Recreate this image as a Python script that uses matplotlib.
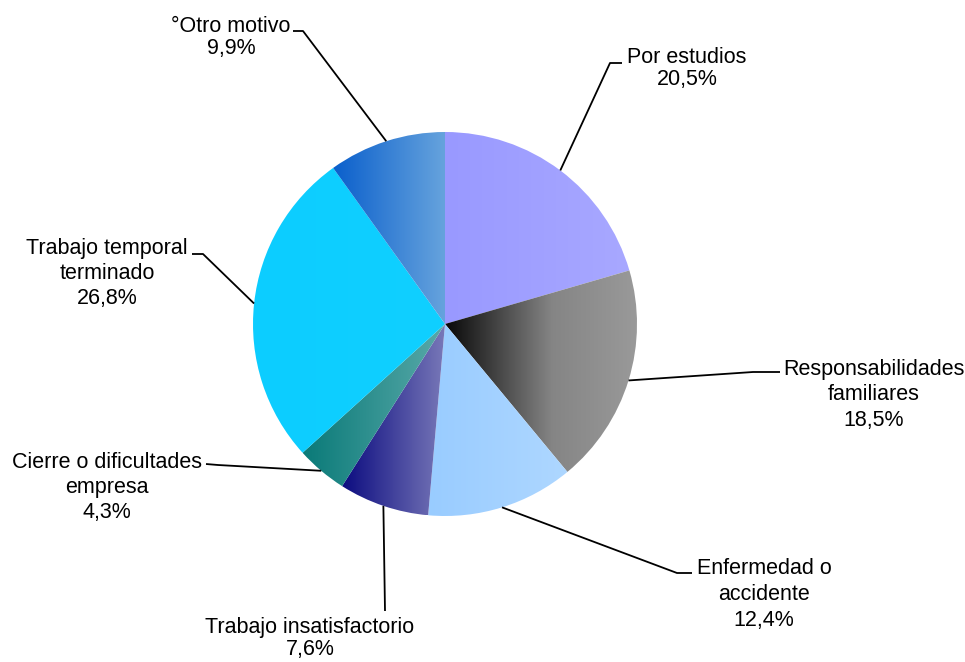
import matplotlib
matplotlib.use("Agg")
import matplotlib.pyplot as plt
import numpy as np
from matplotlib.colors import LinearSegmentedColormap

categories = [["Por estudios"], ["Responsabilidades", "familiares"], ["Enfermedad o", "accidente"],
              ["Trabajo insatisfactorio"], ["Cierre o dificultades", "empresa"],
              ["Trabajo temporal", "terminado"], ["°Otro motivo"]]
values = [20.5, 18.5, 12.4, 7.6, 4.3, 26.8, 9.9]
value_labels = ["20,5%", "18,5%", "12,4%", "7,6%", "4,3%", "26,8%", "9,9%"]

grad_colors = [["#9999ff", "#a8a8ff"], ["#080808", "#858585", "#9a9a9a"], ["#99ccff", "#aed7ff"],
               ["#0c0c80", "#7878b8"], ["#0a7a78", "#5aaaaa"], ["#0ccdff", "#10d0ff"],
               ["#0a5fcc", "#66a3dd"]]

W, H = 965, 662
cx, cy, R = 445, 324, 192

# label layout (pixel coords, top-origin): text center x, line center ys, elbow points
label_x = [687, 874, 764, 310, 107, 107, 231]
label_ys = [[55, 77], [367, 392, 418], [566, 592, 618], [625, 647], [460, 485, 510],
            [246, 271, 296], [24, 46]]
elbows = [[(610, 63), (622, 63)], [(753, 372), (780, 372)], [(677, 573), (692, 573)],
          [(385, 611)], [(218, 465), (206, 464)], [(203, 254), (192, 254)],
          [(303, 31), (293, 31)]]

plt.rcParams['font.family'] = ['Liberation Sans', 'DejaVu Sans']
fig = plt.figure(figsize=(W / 100, H / 100), dpi=100)
ax = fig.add_axes([0, 0, 1, 1])
ax.set_xlim(0, W)
ax.set_ylim(0, H)
ax.set_aspect('equal')
ax.axis('off')

wedges, _ = ax.pie(values, startangle=90, counterclock=False, center=(cx, H - cy),
                   radius=R, wedgeprops=dict(linewidth=0))

for w, cols in zip(wedges, grad_colors):
    w.set_facecolor('none')
    path = w.get_path()
    verts = w.get_transform().transform(path.vertices)
    inv = ax.transData.inverted().transform(verts)
    x0, x1 = inv[:, 0].min(), inv[:, 0].max()
    y0, y1 = inv[:, 1].min(), inv[:, 1].max()
    if len(cols) == 3:
        cmap = LinearSegmentedColormap.from_list("g", [(0, cols[0]), (0.55, cols[1]), (1, cols[2])])
    else:
        cmap = LinearSegmentedColormap.from_list("g", cols)
    grad = np.linspace(0, 1, 256).reshape(1, -1)
    im = ax.imshow(grad, cmap=cmap, extent=(x0, x1, y0, y1), aspect='auto',
                   interpolation='bilinear', zorder=1)
    im.set_clip_path(w)
ax.set_xlim(0, W)
ax.set_ylim(0, H)

fs = 15.5
cap = 0.72 * fs * 100 / 72
total = sum(values)
cum = 0
for i, v in enumerate(values):
    mid = 90 - (cum + v / 2) / total * 360
    cum += v
    px = cx + R * np.cos(np.radians(mid))
    py = cy - R * np.sin(np.radians(mid))
    pts = [(px, py)] + elbows[i]
    ax.plot([p[0] for p in pts], [H - p[1] for p in pts], color='black', lw=1.3,
            zorder=3, solid_capstyle='butt')
    lines = categories[i] + [value_labels[i]]
    for line, yc in zip(lines, label_ys[i]):
        ax.text(label_x[i], H - (yc + cap / 2), line, ha='center', va='baseline',
                fontsize=fs, zorder=4)

fig.savefig("out.png", dpi=100)
